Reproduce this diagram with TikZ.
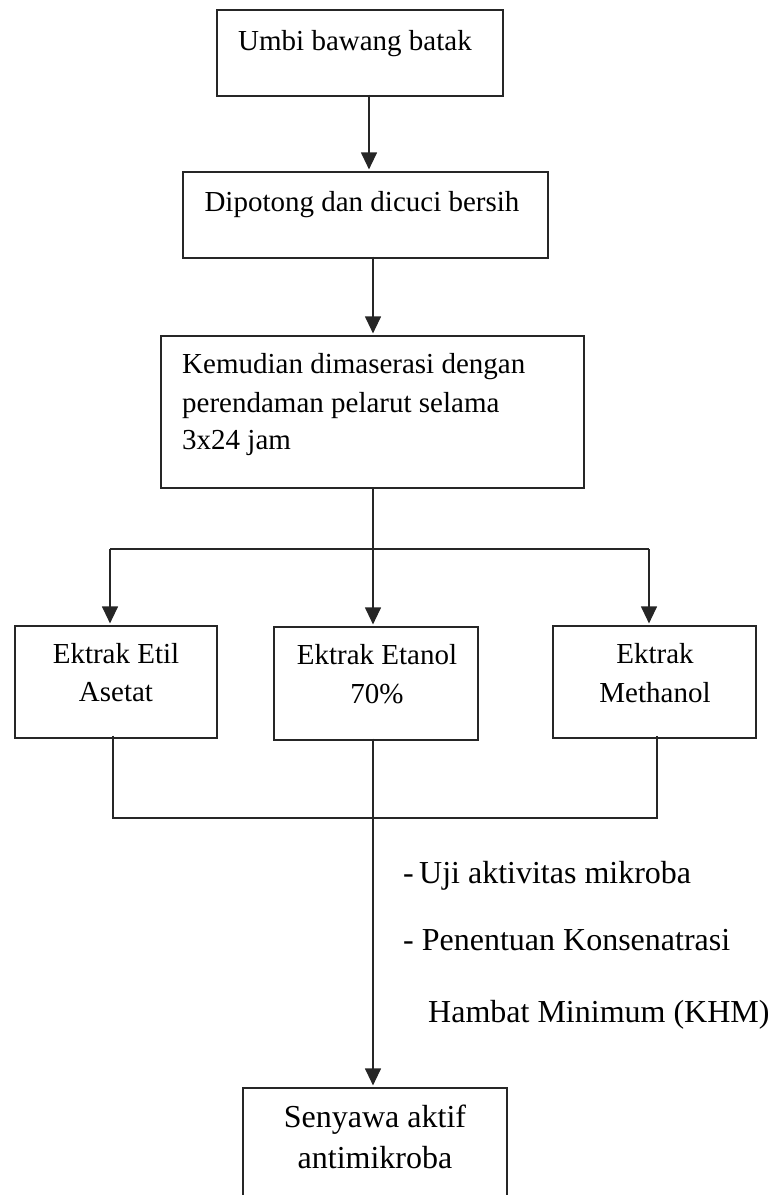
\documentclass[tikz,border=0pt]{standalone}
\usepackage{fontspec}
\setmainfont{Liberation Serif}
\usetikzlibrary{arrows.meta}
\begin{document}
\begin{tikzpicture}[x=1bp,y=-1bp,
  box/.style={draw=black!85, line width=1.2bp, inner sep=0pt},
  txt/.style={font=\fontsize{29bp}{38bp}\selectfont, inner sep=0pt},
  bigtxt/.style={font=\fontsize{32bp}{40bp}\selectfont, inner sep=0pt},
  conn/.style={draw=black!85, line width=1.2bp},
  arr/.style={conn, -{Triangle[width=16bp,length=17bp]}, shorten >=2bp}]
\useasboundingbox (0,0) rectangle (771,1195);
% boxes
\node[box, minimum width=286bp, minimum height=86bp]  (b1) at (360,53) {};
\node[box, minimum width=365bp, minimum height=86bp]  (b2) at (365.5,215) {};
\node[box, minimum width=423bp, minimum height=152bp] (b3) at (372.5,412) {};
\node[box, minimum width=202bp, minimum height=112bp] (b4) at (116,682) {};
\node[box, minimum width=204bp, minimum height=113bp] (b5) at (376,683.5) {};
\node[box, minimum width=203bp, minimum height=112bp] (b6) at (654.5,682) {};
\node[box, minimum width=264bp, minimum height=120bp] (b7) at (375,1148) {};
% texts
\node[txt, anchor=base] (t1) at (355,50) {Umbi bawang batak};
\node[txt, anchor=base] (t2) at (362,211) {Dipotong dan dicuci bersih};
\node[txt, anchor=base west] (t3a) at (182,373) {Kemudian dimaserasi dengan};
\node[txt, anchor=base west] (t3b) at (182,412) {perendaman pelarut selama};
\node[txt, anchor=base west] (t3c) at (182,449) {3x24 jam};
\node[txt, anchor=base] (t4a) at (116,663) {Ektrak Etil};
\node[txt, anchor=base] (t4b) at (116,701) {Asetat};
\node[txt, anchor=base] (t5a) at (377,664) {Ektrak Etanol};
\node[txt, anchor=base] (t5b) at (377,703) {70\%};
\node[txt, anchor=base] (t6a) at (655,663) {Ektrak};
\node[txt, anchor=base] (t6b) at (655,702) {Methanol};
\node[bigtxt, anchor=base] (t7a) at (375,1127) {Senyawa aktif};
\node[bigtxt, anchor=base] (t7b) at (375,1168) {antimikroba};
\node[bigtxt, anchor=base west] (s1) at (403,883) {-\,Uji aktivitas mikroba};
\node[bigtxt, anchor=base west] (s2) at (403,950) {- Penentuan Konsenatrasi};
\node[bigtxt, anchor=base west] (s3) at (428,1022) {Hambat Minimum (KHM)};
% guide coordinates
\coordinate (x1) at (369,0);
\coordinate (x2) at (373,0);
\coordinate (xl) at (110,0);
\coordinate (xr) at (649,0);
\coordinate (xbl) at (113,0);
\coordinate (xbr) at (657,0);
\coordinate (ytop) at (0,549);
\coordinate (ybot) at (0,818);
% connectors
\draw[arr] ([yshift=2bp]b1.south -| x1) -- (b2.north -| x1);
\draw[arr] ([yshift=2bp]b2.south -| x2) -- (b3.north -| x2);
\draw[arr] (b3.south -| x2) -- (b5.north -| x2);
\draw[conn] (xl |- ytop) -- (xr |- ytop);
\draw[arr] (xl |- ytop) -- (b4.north -| xl);
\draw[arr] (xr |- ytop) -- (b6.north -| xr);
\draw[conn] ([yshift=3bp]b4.south -| xbl) -- (xbl |- ybot) -- (xbr |- ybot) -- ([yshift=3bp]b6.south -| xbr);
\draw[arr] ([yshift=2bp]b5.south -| x2) -- (b7.north -| x2);
\end{tikzpicture}
\end{document}
